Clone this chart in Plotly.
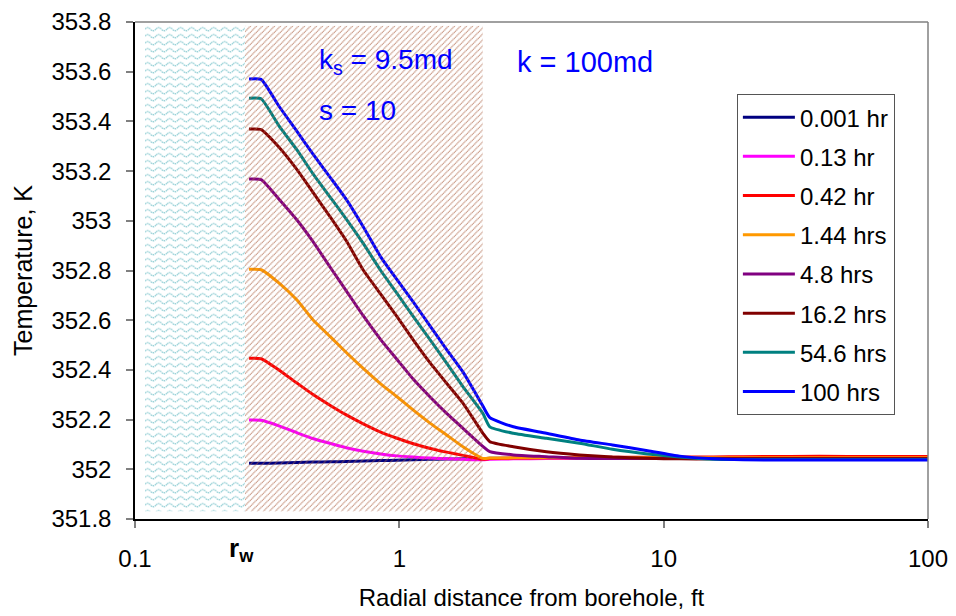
import base64
import math
import plotly.graph_objects as go

# Radial positions (ft) shared by every temperature profile
r_ft = [0.27, 0.30, 0.35, 0.41, 0.47, 0.55, 0.63, 0.73, 0.85, 0.98, 1.13, 1.31, 1.51,
        1.74, 2.07, 2.2, 2.7, 3.6, 4.8, 6.4, 8.7, 11.5, 15.4, 20, 30, 50, 100]

# Temperature profiles (K) at successive times
t_0001 = [352.024, 352.024, 352.025, 352.027, 352.029, 352.030, 352.031, 352.033, 352.035,
          352.036, 352.038, 352.040, 352.041, 352.042, 352.043, 352.044, 352.044, 352.044,
          352.044, 352.044, 352.044, 352.044, 352.044, 352.044, 352.044, 352.044, 352.044]
t_013 = [352.198, 352.197, 352.175, 352.147, 352.124, 352.104, 352.087, 352.073, 352.062,
         352.054, 352.049, 352.045, 352.042, 352.040, 352.038, 352.040, 352.042, 352.043,
         352.044, 352.045, 352.045, 352.046, 352.047, 352.048, 352.049, 352.050, 352.051]
t_042 = [352.447, 352.445, 352.400, 352.347, 352.302, 352.256, 352.219, 352.183, 352.150,
         352.125, 352.103, 352.084, 352.069, 352.056, 352.040, 352.043, 352.045, 352.046,
         352.047, 352.048, 352.048, 352.049, 352.050, 352.051, 352.052, 352.052, 352.052]
t_144 = [352.805, 352.803, 352.750, 352.681, 352.603, 352.532, 352.470, 352.406, 352.344,
         352.292, 352.238, 352.185, 352.138, 352.091, 352.044, 352.045, 352.046, 352.046,
         352.046, 352.046, 352.046, 352.046, 352.046, 352.046, 352.046, 352.046, 352.046]
t_48 = [353.168, 353.166, 353.088, 353.003, 352.918, 352.810, 352.718, 352.618, 352.522,
        352.442, 352.362, 352.290, 352.225, 352.165, 352.092, 352.071, 352.058, 352.051,
        352.044, 352.043, 352.043, 352.043, 352.043, 352.043, 352.043, 352.043, 352.043]
t_162 = [353.369, 353.367, 353.297, 353.206, 353.116, 353.013, 352.920, 352.802, 352.705,
         352.614, 352.520, 352.427, 352.346, 352.266, 352.145, 352.111, 352.091, 352.071,
         352.058, 352.049, 352.044, 352.042, 352.042, 352.042, 352.042, 352.042, 352.042]
t_546 = [353.493, 353.491, 353.383, 353.285, 353.191, 353.092, 353.007, 352.909, 352.800,
         352.708, 352.614, 352.520, 352.427, 352.333, 352.225, 352.171, 352.145, 352.125,
         352.105, 352.081, 352.062, 352.049, 352.040, 352.039, 352.039, 352.039, 352.039]
t_100 = [353.571, 353.569, 353.462, 353.360, 353.270, 353.172, 353.086, 352.976, 352.855,
         352.763, 352.673, 352.575, 352.482, 352.392, 352.255, 352.208, 352.171, 352.145,
         352.118, 352.098, 352.075, 352.053, 352.042, 352.038, 352.037, 352.037, 352.037]

series_names = ["0.001 hr", "0.13 hr", "0.42 hr", "1.44 hrs", "4.8 hrs",
                "16.2 hrs", "54.6 hrs", "100 hrs"]
series_values = [t_0001, t_013, t_042, t_144, t_48, t_162, t_546, t_100]
series_colors = ["#000080", "#FF00FF", "#FF0000", "#FF9900", "#800080",
                 "#800000", "#008080", "#0000FF"]

# Zone boundaries (ft): wellbore fill, skin zone, and the temperature band they span
wellbore_ft = [0.109, 0.2605]
skin_ft = [0.2605, 2.07]
zone_temp = [351.83, 353.785]
rw_ft = 0.27

x_ticks = [0.1, 1, 10, 100]
x_ticktext = ["0.1", "1", "10", "100"]
y_ticks = [351.8, 352.0, 352.2, 352.4, 352.6, 352.8, 353.0, 353.2, 353.4, 353.6, 353.8]
y_ticktext = ["351.8", "352", "352.2", "352.4", "352.6", "352.8", "353", "353.2",
              "353.4", "353.6", "353.8"]

FONT = "Liberation Sans, Arial, sans-serif"
W, H = 956, 616
M = dict(l=135, r=28, t=22, b=97)
plot_w = W - M["l"] - M["r"]
plot_h = H - M["t"] - M["b"]


def svg_uri(svg):
    return "data:image/svg+xml;base64," + base64.b64encode(svg.encode()).decode()


def zone_px(lo, hi):
    # pixel size of a zone so the texture tiles at 1:1
    dec = plot_w / 3.0
    w = (math.log10(hi) - math.log10(lo)) * dec
    h = (zone_temp[1] - zone_temp[0]) / 2.0 * plot_h
    return w, h


ww, wh = zone_px(*wellbore_ft)
wave_svg = (
    f'<svg xmlns="http://www.w3.org/2000/svg" width="{ww:.1f}" height="{wh:.1f}" '
    f'preserveAspectRatio="none">'
    '<defs><pattern id="w" width="11" height="7" patternUnits="userSpaceOnUse">'
    '<path d="M0,3.5 Q2.75,0.3 5.5,3.5 T11,3.5" fill="none" stroke="#8fcdd3" '
    'stroke-width="1.3" stroke-dasharray="1.6,0.7"/></pattern></defs>'
    '<rect width="100%" height="100%" fill="url(#w)"/></svg>'
)

sw, sh = zone_px(*skin_ft)
hatch_svg = (
    f'<svg xmlns="http://www.w3.org/2000/svg" width="{sw:.1f}" height="{sh:.1f}" '
    f'preserveAspectRatio="none">'
    '<defs><pattern id="h" width="6" height="6" patternUnits="userSpaceOnUse">'
    '<path d="M-1,1 L1,-1 M0,6 L6,0 M5,7 L7,5" stroke="#ad6446" stroke-width="1.1" '
    'stroke-dasharray="1.2,0.6" fill="none"/></pattern></defs>'
    '<rect width="100%" height="100%" fill="url(#h)" opacity="0.8"/></svg>'
)

fig = go.Figure()

for name, vals, col in zip(series_names, series_values, series_colors):
    fig.add_trace(go.Scatter(
        x=r_ft, y=vals, mode="lines", name=name, legendgroup=name,
        line=dict(color=col, width=3, shape="spline", smoothing=0.5),
    ))

fig.add_layout_image(dict(
    source=svg_uri(wave_svg), xref="x", yref="y",
    x=math.log10(wellbore_ft[0]), y=zone_temp[1],
    sizex=math.log10(wellbore_ft[1]) - math.log10(wellbore_ft[0]),
    sizey=zone_temp[1] - zone_temp[0],
    xanchor="left", yanchor="top", sizing="stretch", layer="below",
))
fig.add_layout_image(dict(
    source=svg_uri(hatch_svg), xref="x", yref="y",
    x=math.log10(skin_ft[0]), y=zone_temp[1],
    sizex=math.log10(skin_ft[1]) - math.log10(skin_ft[0]),
    sizey=zone_temp[1] - zone_temp[0],
    xanchor="left", yanchor="top", sizing="stretch", layer="above",
))

# Frame: dark axes on left/bottom, grey lines closing top/right
fig.add_shape(type="line", xref="paper", yref="paper", x0=0, x1=1, y0=1, y1=1,
              line=dict(color="#808080", width=1.5))
fig.add_shape(type="line", xref="paper", yref="paper", x0=1, x1=1, y0=0, y1=1,
              line=dict(color="#808080", width=1.5))

blue_txt = dict(family=FONT, size=28, color="#0000FF")
fig.add_annotation(text="k<sub>s</sub> = 9.5md", xref="x", yref="y",
                   x=math.log10(0.488), y=353.64, xanchor="left", yanchor="middle",
                   showarrow=False, font=blue_txt)
fig.add_annotation(text="s = 10", xref="x", yref="y",
                   x=math.log10(0.488), y=353.445, xanchor="left", yanchor="middle",
                   showarrow=False, font=blue_txt)
fig.add_annotation(text="k = 100md", xref="x", yref="y",
                   x=math.log10(2.74), y=353.64, xanchor="left", yanchor="middle",
                   showarrow=False, font=dict(family=FONT, size=29, color="#0000FF"))
fig.add_annotation(text="<b>r<sub>w</sub></b>", xref="x", yref="paper",
                   x=math.log10(rw_ft), y=-0.062, xanchor="center", yanchor="middle",
                   xshift=-8, showarrow=False,
                   font=dict(family=FONT, size=26, color="black"))

fig.update_layout(
    width=W, height=H, margin=M,
    paper_bgcolor="white", plot_bgcolor="white",
    font=dict(family=FONT, size=24, color="black"),
    showlegend=True,
    legend=dict(
        x=0.759, y=0.855, xanchor="left", yanchor="top",
        bgcolor="white", bordercolor="#555555", borderwidth=1,
        font=dict(family=FONT, size=24, color="black"),
        tracegroupgap=5, itemwidth=52,
    ),
    xaxis=dict(
        type="log", range=[-1, 2], tickvals=x_ticks, ticktext=x_ticktext,
        showline=True, linecolor="black", linewidth=1.5, mirror=False,
        ticks="outside", ticklen=7, tickwidth=1.5, tickcolor="#808080",
        showgrid=False, zeroline=False, ticklabelstandoff=10, automargin=False,
        tickfont=dict(family=FONT, size=24, color="black"),
        title=dict(text="Radial distance from borehole, ft", standoff=19,
                   font=dict(family=FONT, size=24, color="black")),
    ),
    yaxis=dict(
        range=[351.8, 353.8], tickvals=y_ticks, ticktext=y_ticktext,
        showline=True, linecolor="black", linewidth=1.5, mirror=False,
        ticks="outside", ticklen=7, tickwidth=1.5, tickcolor="#808080",
        showgrid=False, zeroline=False, ticklabelstandoff=10, automargin=False,
        tickfont=dict(family=FONT, size=24, color="black"),
        title=dict(text="Temperature, K", standoff=12,
                   font=dict(family=FONT, size=25, color="black")),
    ),
)

fig.write_html("out.html")
